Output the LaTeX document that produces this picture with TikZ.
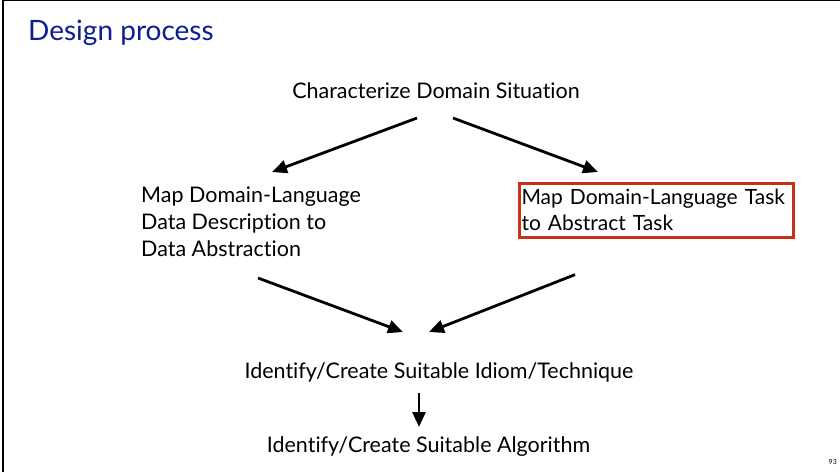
\documentclass[tikz,border=0pt]{standalone}
\usepackage{fontspec}
\setmainfont{Lato}[Ligatures={NoCommon,NoRare}]
\usepackage{xcolor}
\usetikzlibrary{arrows.meta,positioning,calc}
\definecolor{titleblue}{RGB}{12,30,145}
\definecolor{boxred}{RGB}{200,48,26}

\begin{document}
\begin{tikzpicture}[x=1pt, y=-1pt,
  steptext/.style={inner sep=0pt, align=left, font=\fontsize{21.5}{27}\selectfont},
  taskbox/.style={draw=boxred, line width=3pt, inner xsep=2pt, inner ysep=6pt,
                  text width=270pt, align=left, font=\fontsize{21}{26}\selectfont},
  arrow/.style={-{Triangle[length=15pt, width=13pt]}, line width=2.8pt}
]
\useasboundingbox (0,0) rectangle (840,472);
\draw[line width=1.5pt] (3,472) -- (3,0.7) -- (840,0.7);

\node[anchor=base west, inner sep=0pt, text=titleblue, font=\fontsize{28}{32}\selectfont] (title) at (28,40) {Design process};
\node[steptext, anchor=base] (char) at (436,98) {Characterize Domain Situation};
\node[steptext, anchor=north west] (datamap) at (141,187) {Map Domain-Language\\Data Description to\\Data Abstraction};
\node[taskbox, anchor=north west] (taskmap) at (518,182) {Map Domain-Language Task\\to Abstract Task};
\node[steptext, anchor=base] (idiom) at (439,378) {Identify/Create Suitable Idiom/Technique};
\node[steptext, anchor=base] (algo) at (428.5,452) {Identify/Create Suitable Algorithm};
\node[anchor=base east, inner sep=0pt, font=\fontsize{7}{8}\selectfont] (pageno) at (837,464) {93};

\draw[arrow] ($(char.base)+(-19,20)$) -- ($(datamap.north west)+(131,-15)$);
\draw[arrow] ($(char.base)+(17,20)$) -- ($(taskmap.north west)+(80,-10)$);
\draw[arrow] ($(datamap.north west)+(117,91)$) -- ($(idiom.base)+(-36,-46)$);
\draw[arrow] ($(taskmap.south west)+(57,36)$) -- ($(idiom.base)+(-10,-46)$);
\draw[arrow] ($(idiom.base)+(-20,15)$) -- ($(algo.base)+(-9.5,-25)$);
\end{tikzpicture}
\end{document}
